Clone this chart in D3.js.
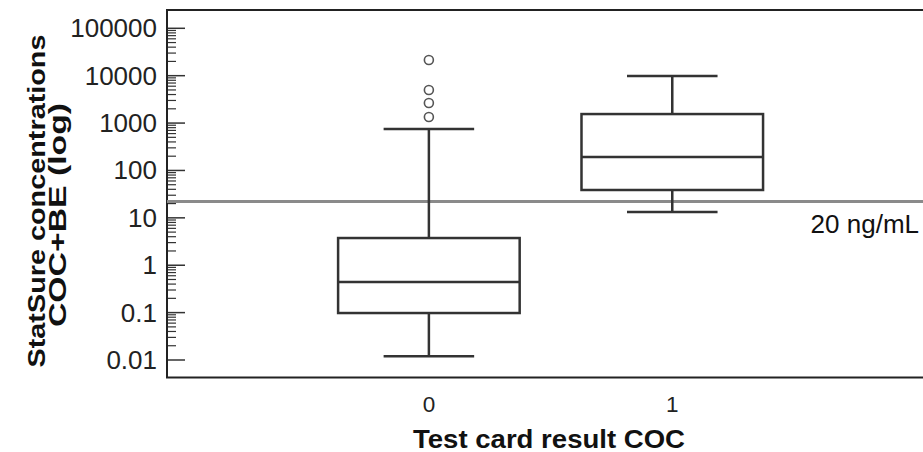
<!DOCTYPE html>
<html>
<head>
<meta charset="utf-8">
<script src="https://cdn.jsdelivr.net/npm/d3@7"></script>
<style>
  html, body { margin: 0; padding: 0; background: #fff; }
  svg { display: block; font-family: "Liberation Sans", Arial, sans-serif; }
</style>
</head>
<body>
<svg id="chart" width="923" height="452"></svg>
<script>
// ---- data ----
const categories = [0, 1];
const categoryLabels = ["0", "1"];
const whiskerLow  = [0.012, 13.3];
const q1          = [0.098, 38.7];
const median      = [0.443, 192];
const q3          = [3.75, 1550];
const whiskerHigh = [750, 9900];
const outliers    = [[21400, 4980, 2650, 1340], []];
const refValue = 22;
const refLabel = "20 ng/mL";
const yTickValues = [0.01, 0.1, 1, 10, 100, 1000, 10000, 100000];
const yTickLabels = ["0.01", "0.1", "1", "10", "100", "1000", "10000", "100000"];
const xTitle = "Test card result COC";
const yTitle = ["StatSure concentrations", "COC+BE (log)"];

// ---- layout ----
const svg = d3.select("#chart");
const plotLeft = 167, plotRight = 940, plotTop = 10, plotBottom = 377.5;
const x = d3.scaleLinear().domain([-1.076, 2.1]).range([plotLeft, plotRight]);
const y = d3.scaleLog().domain([0.01, 100000]).range([360, 28.3]);
const boxHalf = 0.373, capHalf = 0.186;
const dark = "#333";

// minor ticks
const minorTicks = [];
yTickValues.slice(0, -1).forEach(d => { for (let k = 2; k <= 9; k++) minorTicks.push(d * k); });

const ticksG = svg.append("g");
ticksG.selectAll("line.minor").data(minorTicks).join("line")
  .attr("x1", plotLeft).attr("x2", plotLeft + 9)
  .attr("y1", d => y(d)).attr("y2", d => y(d))
  .attr("stroke", dark).attr("stroke-width", 1.2);
ticksG.selectAll("line.major").data(yTickValues).join("line")
  .attr("x1", plotLeft).attr("x2", plotLeft + 18)
  .attr("y1", d => y(d)).attr("y2", d => y(d))
  .attr("stroke", dark).attr("stroke-width", 1.5);

// y tick labels
svg.append("g").selectAll("text").data(yTickValues).join("text")
  .attr("x", 157).attr("y", d => y(d))
  .attr("text-anchor", "end").attr("dominant-baseline", "central")
  .attr("font-size", 26).attr("fill", "#222")
  .text((d, i) => yTickLabels[i]);

// frame (left, top, bottom)
svg.append("path")
  .attr("d", `M${plotRight},${plotTop}H${plotLeft}V${plotBottom}H${plotRight}`)
  .attr("fill", "none").attr("stroke", "#222").attr("stroke-width", 2);

// reference line
svg.append("line")
  .attr("x1", plotLeft).attr("x2", plotRight)
  .attr("y1", y(refValue)).attr("y2", y(refValue))
  .attr("stroke", "#8a8a8a").attr("stroke-width", 3);
svg.append("text")
  .attr("x", 919).attr("y", y(refValue) + 31)
  .attr("text-anchor", "end").attr("font-size", 26).attr("fill", "#111")
  .text(refLabel);

// boxes
const boxes = svg.append("g").attr("fill", "none").attr("stroke", dark).attr("stroke-width", 2.5);
categories.forEach((c, i) => {
  const g = boxes.append("g");
  g.append("line").attr("x1", x(c)).attr("x2", x(c)).attr("y1", y(whiskerLow[i])).attr("y2", y(q1[i]));
  g.append("line").attr("x1", x(c)).attr("x2", x(c)).attr("y1", y(q3[i])).attr("y2", y(whiskerHigh[i]));
  g.append("line").attr("x1", x(c - capHalf)).attr("x2", x(c + capHalf)).attr("y1", y(whiskerLow[i])).attr("y2", y(whiskerLow[i]));
  g.append("line").attr("x1", x(c - capHalf)).attr("x2", x(c + capHalf)).attr("y1", y(whiskerHigh[i])).attr("y2", y(whiskerHigh[i]));
  g.append("rect").attr("x", x(c - boxHalf)).attr("width", x(c + boxHalf) - x(c - boxHalf))
    .attr("y", y(q3[i])).attr("height", y(q1[i]) - y(q3[i])).attr("fill", "#fff");
  g.append("line").attr("x1", x(c - boxHalf)).attr("x2", x(c + boxHalf)).attr("y1", y(median[i])).attr("y2", y(median[i]));
  g.selectAll("circle").data(outliers[i]).join("circle")
    .attr("cx", x(c)).attr("cy", d => y(d)).attr("r", 4.5)
    .attr("stroke", "#555").attr("stroke-width", 1.6).attr("fill", "#fff");
});

// x tick labels
svg.append("g").selectAll("text").data(categories).join("text")
  .attr("x", d => x(d)).attr("y", 411.5)
  .attr("text-anchor", "middle").attr("font-size", 22.5).attr("fill", "#222")
  .text((d, i) => categoryLabels[i]);

// axis titles
svg.append("text").attr("x", 549).attr("y", 448)
  .attr("text-anchor", "middle").attr("font-size", 25).attr("font-weight", "bold").attr("fill", "#111")
  .attr("textLength", 272).attr("lengthAdjust", "spacingAndGlyphs")
  .text(xTitle);
svg.append("text").attr("transform", "translate(45,201) rotate(-90)")
  .attr("text-anchor", "middle").attr("font-size", 24).attr("font-weight", "bold").attr("fill", "#111")
  .attr("textLength", 333).attr("lengthAdjust", "spacingAndGlyphs")
  .text(yTitle[0]);
svg.append("text").attr("transform", "translate(66,215) rotate(-90)")
  .attr("text-anchor", "middle").attr("font-size", 24).attr("font-weight", "bold").attr("fill", "#111")
  .attr("textLength", 224).attr("lengthAdjust", "spacingAndGlyphs")
  .text(yTitle[1]);
</script>
</body>
</html>
